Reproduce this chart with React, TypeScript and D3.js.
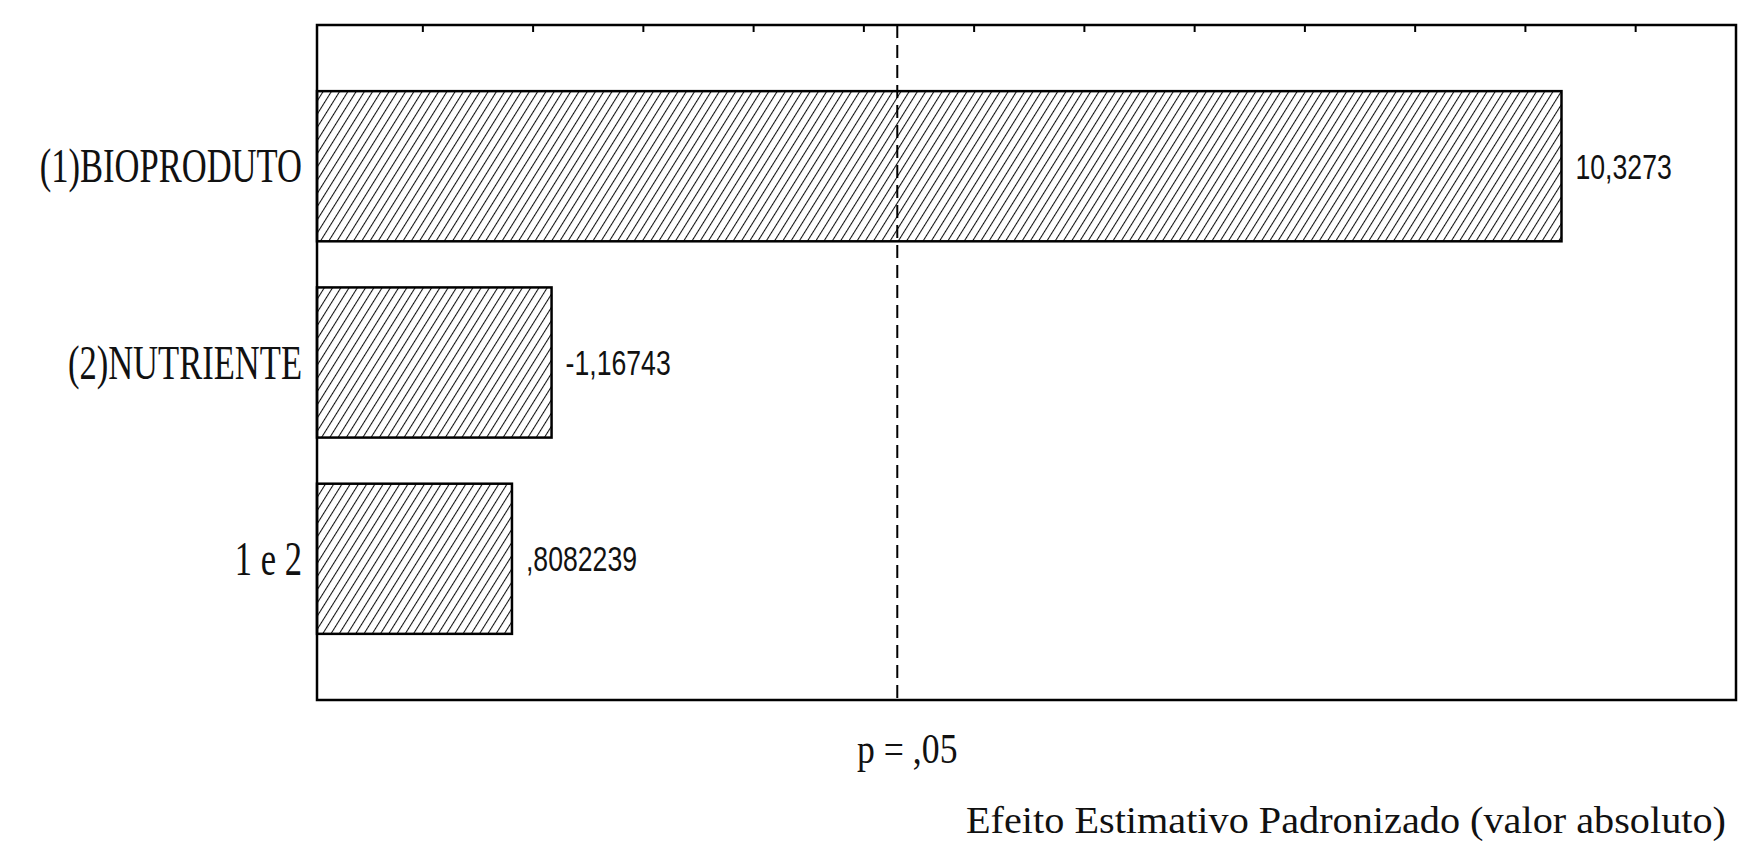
import React from "react";
import * as d3 from "d3";

const categories = ["(1)BIOPRODUTO", "(2)NUTRIENTE", "1 e 2"];
const effects = [10.3273, -1.16743, 0.8082239];
const valueLabels = ["10,3273", "-1,16743", ",8082239"];
const xTicks = [0, 1, 2, 3, 4, 5, 6, 7, 8, 9, 10, 11];
const xDomain = [-0.96, 11.91];
const pCritical = 4.303;
const pLabel = "p = ,05";
const xTitle = "Efeito Estimativo Padronizado (valor absoluto)";

const W = 1738;
const H = 841;
const left = 317;
const right = 1736;
const top = 25;
const bottom = 700;

export default function App() {
  const x = d3.scaleLinear().domain(xDomain).range([left, right]);
  const y = d3
    .scaleBand<string>()
    .domain(categories)
    .range([top, bottom])
    .paddingInner(0.235)
    .paddingOuter(0.337);
  const x0 = x(xDomain[0]);
  const px = x(pCritical);

  return (
    <div style={{ position: "absolute", left: 0, top: 0 }}>
      <svg width={W} height={H} style={{ display: "block", background: "#fff" }}>
        <defs>
          <pattern
            id="hatch"
            patternUnits="userSpaceOnUse"
            width={7}
            height={7}
            patternTransform="rotate(32)"
          >
            <rect width={7} height={7} fill="#fff" />
            <line x1={0} y1={-1} x2={0} y2={8} stroke="#111" strokeWidth={2.1} />
          </pattern>
        </defs>

        {categories.map((c, i) => {
          const v = Math.abs(effects[i]);
          const yb = y(c)!;
          const bw = y.bandwidth();
          const xe = x(v);
          const cy = yb + bw / 2;
          return (
            <g key={c}>
              <rect
                x={x0}
                y={yb}
                width={xe - x0}
                height={bw}
                fill="url(#hatch)"
                stroke="#000"
                strokeWidth={2.5}
              />
              <text
                transform={`translate(${xe + 14},${cy}) scale(0.74,1)`}
                fontFamily="Liberation Sans, Arial, sans-serif"
                fontSize={36}
                dominantBaseline="central"
                fill="#111"
              >
                {valueLabels[i]}
              </text>
              <text
                transform={`translate(${left - 15},${cy}) scale(0.72,1)`}
                fontFamily="Liberation Serif, Times New Roman, serif"
                fontSize={48}
                textAnchor="end"
                dominantBaseline="central"
                fill="#111"
              >
                {c}
              </text>
            </g>
          );
        })}

        <line
          x1={px}
          x2={px}
          y1={top}
          y2={bottom}
          stroke="#000"
          strokeWidth={2}
          strokeDasharray="13 7"
        />

        {xTicks.map((t) => (
          <line key={t} x1={x(t)} x2={x(t)} y1={top} y2={top + 7} stroke="#000" strokeWidth={2} />
        ))}

        <rect
          x={left}
          y={top}
          width={right - left}
          height={bottom - top}
          fill="none"
          stroke="#000"
          strokeWidth={2.5}
        />

        <text
          x={px + 10}
          y={763}
          fontFamily="Liberation Serif, Times New Roman, serif"
          fontSize={42}
          textAnchor="middle"
          fill="#111"
          transform={`translate(${(px + 10) * 0.15},0) scale(0.85,1)`}
        >
          {pLabel}
        </text>

        <text
          x={966}
          y={833}
          fontFamily="Liberation Serif, Times New Roman, serif"
          fontSize={38}
          textLength={760}
          lengthAdjust="spacingAndGlyphs"
          fill="#111"
        >
          {xTitle}
        </text>
      </svg>
    </div>
  );
}
